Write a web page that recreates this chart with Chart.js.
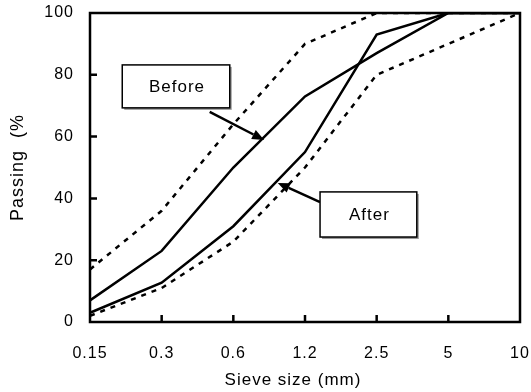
<!DOCTYPE html>
<html>
<head>
<meta charset="utf-8">
<script src="https://cdn.jsdelivr.net/npm/chart.js@4.4.0/dist/chart.umd.min.js"></script>
<style>
    html, body { margin: 0; padding: 0; background: #fff; }
    #wrap { width: 531px; height: 392px; }
</style>
</head>
<body>
<div id="wrap"><canvas id="gradation" width="531" height="392"></canvas></div>
<script>
// Sieve sizes (mm) and % passing
const sieveSizes = ['0.15', '0.3', '0.6', '1.2', '2.5', '5', '10'];
const beforePassing = [7, 23, 50, 73, 87, 100, 100];
const afterPassing = [3, 12.7, 31, 55, 93, 100, 100];
const upperLimit = [17, 36, 64, 90, 100, 100, 100];
const lowerLimit = [2, 11, 26, 50, 80, 90, 100];
const yTicks = [0, 20, 40, 60, 80, 100];

// Callouts in data units: box [x1, y1, x2, y2], arrow from -> to
const callouts = [
    { text: 'Before', box: [0.45, 83.2, 1.95, 69.3], from: [1.67, 68], to: [2.43, 58.9] },
    { text: 'After', box: [3.21, 42.1, 4.56, 27.5], from: [3.21, 38.8], to: [2.62, 45] }
];

const FONT = '"Liberation Sans", Arial, sans-serif';

const framePlugin = {
    id: 'framePlugin',
    beforeUpdate(chart) {
        chart.ctx.letterSpacing = '1px';
    },
    beforeDraw(chart) {
        chart.ctx.letterSpacing = '1px';
    },
    afterDatasetsDraw(chart) {
        const { ctx, chartArea: a, scales: { x, y } } = chart;
        ctx.save();
        ctx.strokeStyle = '#000';
        ctx.lineWidth = 2.5;
        ctx.strokeRect(a.left, a.top, a.right - a.left, a.bottom - a.top);

        // inward tick marks
        ctx.beginPath();
        sieveSizes.forEach((s, i) => {
            if (i === 0 || i === sieveSizes.length - 1) return;
            const px = x.getPixelForValue(i);
            ctx.moveTo(px, a.bottom);
            ctx.lineTo(px, a.bottom - 7);
        });
        yTicks.forEach(v => {
            if (v === yTicks[0] || v === yTicks[yTicks.length - 1]) return;
            const py = y.getPixelForValue(v);
            ctx.moveTo(a.left, py);
            ctx.lineTo(a.left + 7, py);
        });
        ctx.stroke();

        // callout boxes and arrows
        callouts.forEach(c => {
            const x1 = x.getPixelForValue(c.box[0]), y1 = y.getPixelForValue(c.box[1]);
            const x2 = x.getPixelForValue(c.box[2]), y2 = y.getPixelForValue(c.box[3]);
            const fx = x.getPixelForValue(c.from[0]), fy = y.getPixelForValue(c.from[1]);
            const tx = x.getPixelForValue(c.to[0]), ty = y.getPixelForValue(c.to[1]);

            ctx.strokeStyle = '#000';
            ctx.lineWidth = 2.5;
            const ang = Math.atan2(ty - fy, tx - fx);
            const hl = 12, hw = 5;
            const bx = tx - hl * Math.cos(ang), by = ty - hl * Math.sin(ang);
            ctx.beginPath();
            ctx.moveTo(fx, fy);
            ctx.lineTo(bx, by);
            ctx.stroke();
            ctx.fillStyle = '#000';
            ctx.beginPath();
            ctx.moveTo(tx, ty);
            ctx.lineTo(bx - hw * Math.sin(ang), by + hw * Math.cos(ang));
            ctx.lineTo(bx + hw * Math.sin(ang), by - hw * Math.cos(ang));
            ctx.closePath();
            ctx.fill();

            ctx.fillStyle = '#9a9a9a';
            ctx.fillRect(x1 + 2, y1 + 2, x2 - x1, y2 - y1);
            ctx.fillStyle = '#fff';
            ctx.fillRect(x1, y1, x2 - x1, y2 - y1);
            ctx.lineWidth = 1.5;
            ctx.strokeRect(x1, y1, x2 - x1, y2 - y1);

            ctx.fillStyle = '#000';
            ctx.font = '17px ' + FONT;
            ctx.textAlign = 'center';
            ctx.textBaseline = 'middle';
            ctx.fillText(c.text, (x1 + x2) / 2 + 1, (y1 + y2) / 2 + 1);
        });

        // axis titles
        ctx.fillStyle = '#000';
        ctx.textAlign = 'center';
        ctx.textBaseline = 'middle';
        ctx.font = '17px ' + FONT;
        ctx.fillText('Sieve size (mm)', 293, 380);
        ctx.font = '18px ' + FONT;
        ctx.translate(18, (a.top + a.bottom) / 2);
        ctx.rotate(-Math.PI / 2);
        ctx.fillText('Passing  (%', 0, 0);
        ctx.restore();
    }
};

function makeLine(label, data, dashed) {
    return {
        label: label,
        data: data,
        borderColor: '#000',
        borderWidth: 2.5,
        borderDash: dashed ? [5, 6] : [],
        pointRadius: 0,
        tension: 0,
        fill: false
    };
}

const ctx = document.getElementById('gradation').getContext('2d');
new Chart(ctx, {
    type: 'line',
    data: {
        labels: sieveSizes,
        datasets: [
            makeLine('Upper limit', upperLimit, true),
            makeLine('Lower limit', lowerLimit, true),
            makeLine('Before', beforePassing, false),
            makeLine('After', afterPassing, false)
        ]
    },
    options: {
        responsive: false,
        animation: false,
        devicePixelRatio: 1,
        layout: { padding: { left: 0, top: 13, right: 11, bottom: 0 } },
        plugins: {
            legend: { display: false },
            tooltip: { enabled: false }
        },
        scales: {
            x: {
                type: 'category',
                offset: false,
                grid: { display: false, drawTicks: false },
                border: { display: false },
                ticks: {
                    color: '#000',
                    font: { family: FONT, size: 16 },
                    padding: 22,
                    maxRotation: 0,
                    autoSkip: false
                },
                afterFit: s => {
                    s.height = 70;
                    s.paddingLeft = 0;
                    s.paddingRight = 0;
                }
            },
            y: {
                min: 0,
                max: 100,
                grid: { display: false, drawTicks: false },
                border: { display: false },
                ticks: {
                    color: '#000',
                    font: { family: FONT, size: 16 },
                    padding: 16,
                    stepSize: 20
                },
                afterBuildTicks: s => { s.ticks = yTicks.map(v => ({ value: v })); },
                afterFit: s => {
                    s.width = 90;
                    s.paddingTop = 0;
                    s.paddingBottom = 0;
                }
            }
        }
    },
    plugins: [framePlugin]
});
</script>
</body>
</html>
